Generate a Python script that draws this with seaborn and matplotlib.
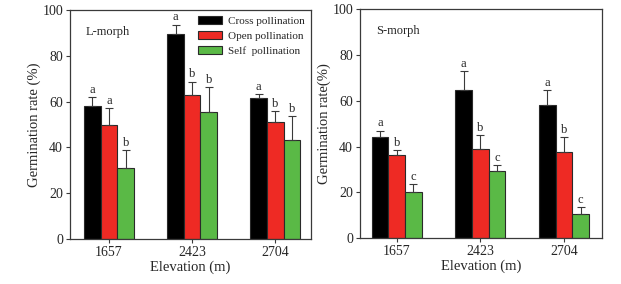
import numpy as np
import pandas as pd
import seaborn as sns
import matplotlib.pyplot as plt

# ---------- data ----------
elevations = ['1657', '2423', '2704']
treatments = ['Cross pollination', 'Open pollination', 'Self  pollination']

l_mean = [[58.2, 89.5, 61.4],   # cross
          [50.0, 62.8, 51.0],   # open
          [31.2, 55.5, 43.3]]   # self
l_err = [[3.8, 4.1, 1.9],
         [7.1, 5.9, 4.8],
         [7.6, 10.8, 10.3]]
l_letters = [['a', 'a', 'a'],
             ['a', 'b', 'b'],
             ['b', 'b', 'b']]

s_mean = [[44.1, 64.8, 58.0],
          [36.4, 38.8, 37.8],
          [20.3, 29.2, 10.4]]
s_err = [[2.8, 8.2, 6.7],
         [2.1, 6.3, 6.3],
         [3.3, 2.6, 3.0]]
s_letters = [['a', 'a', 'a'],
             ['b', 'b', 'b'],
             ['c', 'c', 'c']]

colors = ['#000000', '#ee2a24', '#5ab946']

sns.set_theme(style='white')
plt.rcParams['font.family'] = ['Liberation Serif', 'DejaVu Serif']
plt.rcParams['axes.edgecolor'] = '#3a3a3a'
plt.rcParams['axes.linewidth'] = 0.9


def to_df(mean):
    rows = []
    for t, vals in zip(treatments, mean):
        for e, v in zip(elevations, vals):
            rows.append({'Elevation': e, 'Treatment': t, 'rate': v})
    return pd.DataFrame(rows)


def panel(ax, mean, err, letters, label, ylabel, xlim, show_legend):
    df = to_df(mean)
    sns.barplot(data=df, x='Elevation', y='rate', hue='Treatment',
                hue_order=treatments, order=elevations, palette=colors,
                width=0.6, edgecolor='#2a2a2a', linewidth=0.8,
                saturation=1, errorbar=None, legend=show_legend, ax=ax)
    bar_conts = list(ax.containers)
    for i, cont in enumerate(bar_conts):
        for j, bar in enumerate(cont):
            x = bar.get_x() + bar.get_width() / 2
            h = bar.get_height()
            ax.errorbar(x, h, yerr=[[0], [err[i][j]]], fmt='none',
                        ecolor='#3a3a3a', elinewidth=0.8, capsize=3.2,
                        capthick=0.8)
            ax.text(x, h + err[i][j] + 0.6, letters[i][j], ha='center',
                    va='bottom', fontsize=9)
    ax.set_xlim(*xlim)
    ax.set_ylim(0, 100)
    ax.set_yticks([0, 20, 40, 60, 80, 100])
    ax.tick_params(axis='y', labelsize=10, length=3, width=0.8,
                   direction='out', left=True, color='#3a3a3a', pad=2)
    ax.tick_params(axis='x', labelsize=10, length=3, width=0.8,
                   direction='out', bottom=True, color='#3a3a3a', pad=2)
    ax.set_xlabel('Elevation (m)', fontsize=10.5, labelpad=1)
    ax.set_ylabel(ylabel, fontsize=10.5, labelpad=1)
    for s in ax.spines.values():
        s.set_visible(True)
    ax.text(0.065, 0.905, label, transform=ax.transAxes, fontsize=9,
            ha='left', va='center')
    if show_legend:
        ax.legend(loc='upper left', bbox_to_anchor=(0.533, 0.975),
                  frameon=False, fontsize=8, handlelength=2.15,
                  handleheight=0.75, handletextpad=0.55, labelspacing=0.45,
                  borderpad=0, borderaxespad=0)


fig = plt.figure(figsize=(6.21, 2.84), dpi=100)
ax1 = fig.add_axes([0.1127, 0.1585, 0.388, 0.806])
ax2 = fig.add_axes([0.5797, 0.162, 0.3897, 0.805])

panel(ax1, l_mean, l_err, l_letters, 'L-morph', 'Germination rate (%)',
      (-0.47, 2.43), True)
panel(ax2, s_mean, s_err, s_letters, 'S-morph', 'Germination rate(%)',
      (-0.44, 2.455), False)

fig.savefig('out.png', dpi=100)
